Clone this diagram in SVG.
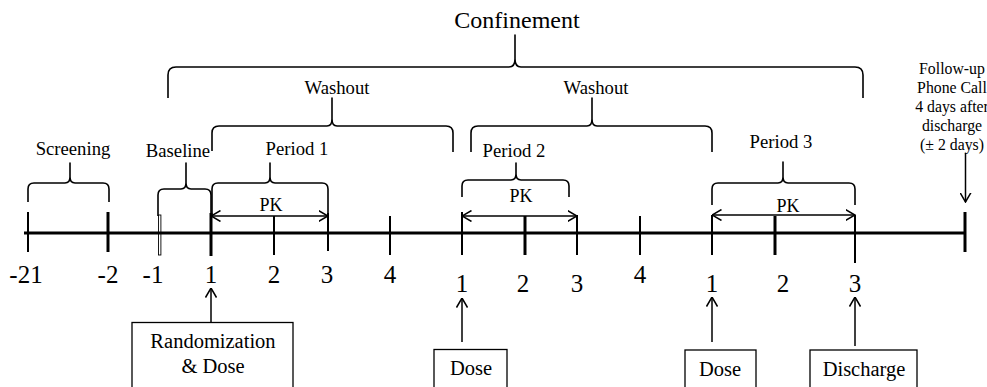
<svg xmlns="http://www.w3.org/2000/svg" width="987" height="387" viewBox="0 0 987 387">
<style>
text{font-family:"Liberation Serif","Times New Roman",serif;fill:#000;text-anchor:middle}
.lbl{font-size:18.7px}
.num{font-size:25px}
.pk{font-size:18px}
.box{font-size:20.5px}
.fu{font-size:15.8px}
.brace{fill:none;stroke:#000;stroke-width:1.6;stroke-linejoin:round}
.tk{stroke:#000;stroke-width:2}
.tkb{stroke:#000;stroke-width:3}
.arr{fill:none;stroke:#000;stroke-width:1.5}
rect.bx{fill:#fff;stroke:#000;stroke-width:1.3}
</style>
<defs>
<marker id="ah" viewBox="0 0 10 12" refX="9.5" refY="6" markerWidth="10" markerHeight="12" orient="auto-start-reverse" markerUnits="userSpaceOnUse">
<path d="M0,0.5 L9.5,6 L0,11.5" fill="none" stroke="#000" stroke-width="1.5"/>
</marker>
</defs>
<rect width="987" height="387" fill="#fff"/>

<g id="axis">
<line x1="24" y1="233" x2="964" y2="233" stroke="#000" stroke-width="3"/>
<line class="tk" x1="28" y1="212" x2="28" y2="252"/>
<line class="tkb" x1="108" y1="212" x2="108" y2="252"/>
<rect x="158.5" y="215" width="2.4" height="40" fill="none" stroke="#000" stroke-width="0.9"/>
<line class="tkb" x1="211" y1="213" x2="211" y2="256"/>
<line class="tk" x1="274" y1="216" x2="274" y2="255"/>
<line class="tk" x1="328" y1="213" x2="328" y2="251"/>
<line class="tk" x1="390" y1="216" x2="390" y2="255"/>
<line class="tk" x1="462" y1="212" x2="462" y2="255"/>
<line class="tkb" x1="525" y1="216" x2="525" y2="255"/>
<line class="tk" x1="577" y1="215" x2="577" y2="255"/>
<line class="tk" x1="640" y1="216" x2="640" y2="255"/>
<line class="tk" x1="712" y1="215" x2="712" y2="255"/>
<line class="tkb" x1="775" y1="216" x2="775" y2="255"/>
<line class="tk" x1="855" y1="215" x2="855" y2="263"/>
<line class="tkb" x1="965" y1="212" x2="965" y2="252"/>
</g>

<g id="day-labels">
<text class="num" x="26" y="283">-21</text>
<text class="num" x="108" y="283">-2</text>
<text class="num" x="153" y="283">-1</text>
<text class="num" x="211" y="283">1</text>
<text class="num" x="274" y="283">2</text>
<text class="num" x="327" y="283">3</text>
<text class="num" x="390" y="283">4</text>
<text class="num" x="462" y="291.5">1</text>
<text class="num" x="523" y="291.5">2</text>
<text class="num" x="577" y="291.5">3</text>
<text class="num" x="640" y="283">4</text>
<text class="num" x="712" y="291.5">1</text>
<text class="num" x="783" y="291.5">2</text>
<text class="num" x="855" y="291.5">3</text>
</g>

<g id="confinement">
<path class="brace" d="M168,98 L168,75 Q168,67 176,67 L509,67 Q515,67 515,59 L515,35 L515,59 Q515,67 521,67 L855,67 Q863,67 863,75 L863,98"/>
<text class="lbl" style="font-size:24px" x="517" y="28">Confinement</text>
</g>

<g id="washout-1">
<path class="brace" d="M212,151 L212,133 Q212,126 219,126 L327,126 Q332,126 332,119 L332,98 L332,119 Q332,126 337,126 L446,126 Q453,126 453,133 L453,152"/>
<text class="lbl" x="337" y="94">Washout</text>
</g>

<g id="washout-2">
<path class="brace" d="M471,152 L471,133 Q471,126 478,126 L587,126 Q592,126 592,119 L592,98 L592,119 Q592,126 597,126 L705,126 Q712,126 712,133 L712,152"/>
<text class="lbl" x="596" y="94">Washout</text>
</g>

<g id="screening">
<path class="brace" d="M28,202 L28,189 Q28,183 34,183 L65,183 Q70,183 70,177 L70,163 L70,177 Q70,183 75,183 L103,183 Q109,183 109,189 L109,202"/>
<text class="lbl" x="73" y="155">Screening</text>
</g>

<g id="baseline">
<path class="brace" d="M158,216 L158,195 Q158,189 164,189 L181,189 Q186,189 186,183 L186,163 L186,183 Q186,189 191,189 L205,189 Q211,189 211,195 L211,216"/>
<text class="lbl" x="178" y="157">Baseline</text>
</g>

<g id="period-1">
<path class="brace" d="M212,216 L212,189 Q212,183 218,183 L265,183 Q270,183 270,177 L270,163 L270,177 Q270,183 275,183 L322,183 Q328,183 328,189 L328,216"/>
<text class="lbl" x="297" y="155">Period 1</text>
<text class="pk" x="271" y="211">PK</text>
</g>

<g id="period-2">
<path class="brace" d="M462,197 L462,186 Q462,180 468,180 L511,180 Q516,180 516,174 L516,163 L516,174 Q516,180 521,180 L563,180 Q569,180 569,186 L569,197"/>
<text class="lbl" x="514" y="157">Period 2</text>
<text class="pk" x="521" y="202">PK</text>
</g>

<g id="period-3">
<path class="brace" d="M712,205 L712,189 Q712,183 718,183 L778,183 Q783,183 783,177 L783,162 L783,177 Q783,183 788,183 L849,183 Q855,183 855,189 L855,205"/>
<text class="lbl" x="781" y="148">Period 3</text>
<text class="pk" x="788" y="212">PK</text>
</g>

<g id="follow-up">
<text class="fu" x="952" y="73.5">Follow-up</text>
<text class="fu" x="952" y="92.5">Phone Call</text>
<text class="fu" x="952" y="111.5">4 days after</text>
<text class="fu" x="952" y="130.5">discharge</text>
<text class="fu" x="952" y="149.5">(± 2 days)</text>
</g>

<g id="randomization-dose">
<rect class="bx" x="132" y="322.5" width="161" height="70"/>
<text class="box" x="213" y="348">Randomization</text>
<text class="box" x="213" y="373">&amp; Dose</text>
</g>

<g id="dose-2">
<rect class="bx" x="434" y="349.5" width="73" height="45"/>
<text class="box" x="471" y="375">Dose</text>
</g>

<g id="dose-3">
<rect class="bx" x="685" y="350" width="71" height="45"/>
<text class="box" x="720" y="376">Dose</text>
</g>

<g id="discharge">
<rect class="bx" x="810" y="350" width="107" height="45"/>
<text class="box" x="864" y="376">Discharge</text>
</g>

<g id="connectors">
<line class="arr" x1="211" y1="216" x2="328" y2="216" marker-start="url(#ah)" marker-end="url(#ah)" stroke-width="1.3"/>
<line class="arr" x1="462" y1="216" x2="577" y2="216" marker-start="url(#ah)" marker-end="url(#ah)" stroke-width="1.3"/>
<line class="arr" x1="712" y1="215" x2="855" y2="215" marker-start="url(#ah)" marker-end="url(#ah)" stroke-width="1.3"/>
<line class="arr" x1="211" y1="322" x2="211" y2="288" marker-end="url(#ah)"/>
<line class="arr" x1="462" y1="342" x2="462" y2="298" marker-end="url(#ah)"/>
<line class="arr" x1="712" y1="342" x2="712" y2="297" marker-end="url(#ah)"/>
<line class="arr" x1="855" y1="346" x2="855" y2="297" marker-end="url(#ah)"/>
<line class="arr" x1="965.5" y1="153" x2="965.5" y2="202" marker-end="url(#ah)"/>
</g>
</svg>
